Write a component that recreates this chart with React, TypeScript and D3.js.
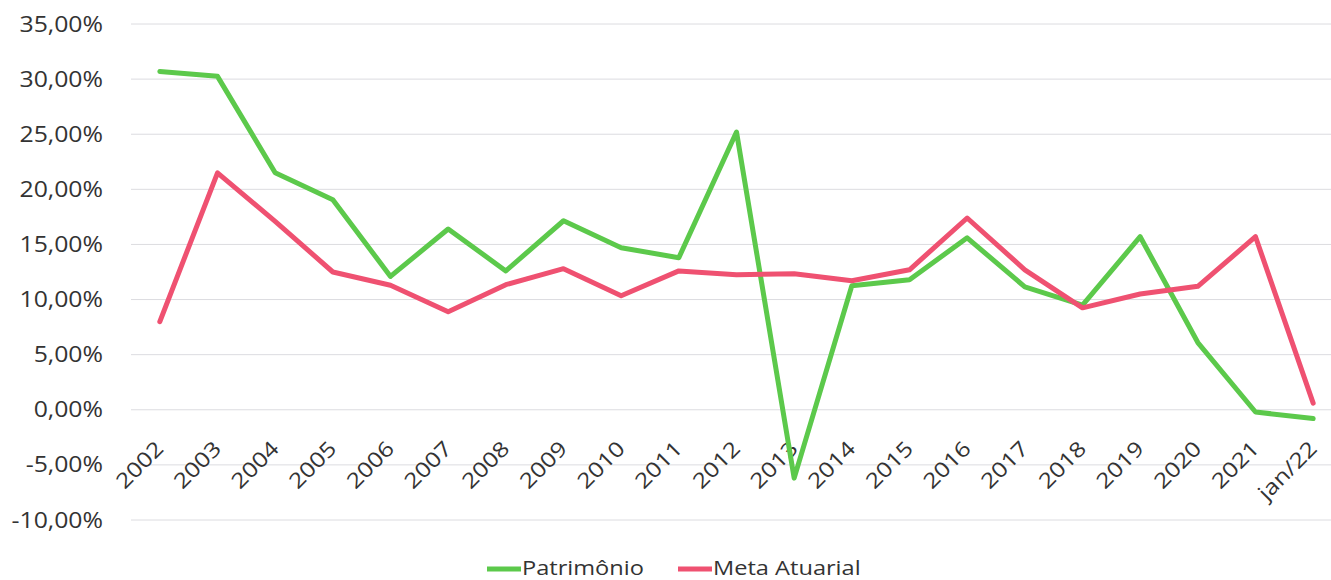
import React, { useRef, useEffect } from 'react';
import * as d3 from 'd3';

const categories = ['2002', '2003', '2004', '2005', '2006', '2007', '2008', '2009', '2010', '2011', '2012', '2013', '2014', '2015', '2016', '2017', '2018', '2019', '2020', '2021', 'jan/22'];
const patrimonio = [30.7, 30.25, 21.5, 19.05, 12.1, 16.4, 12.6, 17.15, 14.7, 13.8, 25.2, -6.2, 11.25, 11.8, 15.6, 11.15, 9.5, 15.7, 6.1, -0.2, -0.8];
const metaAtuarial = [8.0, 21.5, 17.1, 12.5, 11.3, 8.9, 11.35, 12.8, 10.35, 12.6, 12.25, 12.35, 11.7, 12.7, 17.4, 12.7, 9.25, 10.5, 11.2, 15.7, 0.6];
const yTicks = [35, 30, 25, 20, 15, 10, 5, 0, -5, -10];

const series = [
  { name: 'Patrimônio', values: patrimonio, color: '#5cc94b' },
  { name: 'Meta Atuarial', values: metaAtuarial, color: '#ef5171' },
];

const FONT = '"Open Sans", "Noto Sans", sans-serif';
const SX = 1.18; // text in the scan is a bit wider than Open Sans

export default function App() {
  const svgRef = useRef<SVGSVGElement>(null);

  useEffect(() => {
    const width = 1331;
    const height = 580;
    const svg = d3.select(svgRef.current);
    svg.selectAll('*').remove();
    svg.attr('width', width).attr('height', height);

    const x = d3.scaleBand().domain(categories).range([131, 1342]);
    const y = d3.scaleLinear().domain([-10, 35]).range([520, 24]);
    const cx = (d: string) => (x(d) as number) + x.bandwidth() / 2;

    // gridlines
    svg.append('g')
      .selectAll('line')
      .data(yTicks)
      .enter()
      .append('line')
      .attr('x1', 131)
      .attr('x2', 1342)
      .attr('y1', (d) => y(d))
      .attr('y2', (d) => y(d))
      .attr('stroke', '#dcdce0')
      .attr('stroke-width', 1);

    // y labels
    const fmt = (v: number) => v.toFixed(2).replace('.', ',') + '%';
    svg.append('g')
      .selectAll('text')
      .data(yTicks)
      .enter()
      .append('text')
      .attr('transform', (d) => `translate(103,${y(d)}) scale(${SX},1)`)
      .attr('dy', '0.36em')
      .attr('text-anchor', 'end')
      .attr('font-family', FONT)
      .attr('font-size', 21)
      .attr('fill', '#333')
      .text((d) => fmt(d));

    // x labels
    svg.append('g')
      .selectAll('text')
      .data(categories)
      .enter()
      .append('text')
      .attr('transform', (d) => `translate(${cx(d) + 5},${450}) rotate(-45) scale(${SX},1)`)
      .attr('text-anchor', 'end')
      .attr('font-family', FONT)
      .attr('font-size', 21)
      .attr('fill', '#333')
      .text((d) => d);

    // lines
    const line = d3
      .line<number>()
      .x((_, i) => cx(categories[i]))
      .y((d) => y(d));

    series.forEach((s) => {
      svg.append('path')
        .datum(s.values)
        .attr('d', line)
        .attr('fill', 'none')
        .attr('stroke', s.color)
        .attr('stroke-width', 5)
        .attr('stroke-linejoin', 'round')
        .attr('stroke-linecap', 'round');
    });

    // legend
    const legendItems = [
      { ...series[0], x: 487 },
      { ...series[1], x: 678 },
    ];
    const lg = svg.append('g');
    legendItems.forEach((s) => {
      lg.append('line')
        .attr('x1', s.x)
        .attr('x2', s.x + 34)
        .attr('y1', 569)
        .attr('y2', 569)
        .attr('stroke', s.color)
        .attr('stroke-width', 5);
      lg.append('text')
        .attr('transform', `translate(${s.x + 35},575) scale(${SX},1)`)
        .attr('font-family', FONT)
        .attr('font-size', 20)
        .attr('fill', '#333')
        .text(s.name);
    });
  }, []);

  return (
    <div style={{ width: 1331, height: 580 }}>
      <style>{'body{margin:0;}'}</style>
      <svg ref={svgRef} style={{ display: 'block' }}></svg>
    </div>
  );
}
